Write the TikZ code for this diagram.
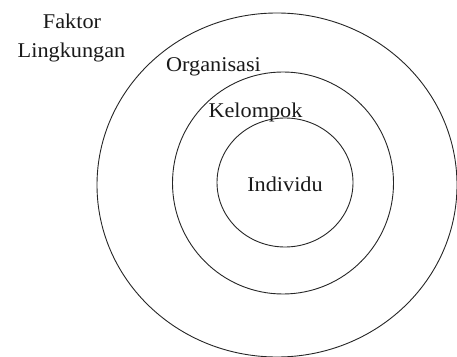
\documentclass[tikz,border=0pt]{standalone}
\usepackage{fontspec}
\setmainfont{Liberation Serif}
\begin{document}
\begin{tikzpicture}[x=1pt,y=1pt,
  ring/.style={draw=black!85, line width=0.9pt},
  lbl/.style={anchor=base, inner sep=0pt, font=\fontsize{21}{25}\selectfont, text=black!90, xscale=1.06}]
\useasboundingbox (0,0) rectangle (457,356);
\coordinate (co) at (277,171);
\coordinate (cm) at (283,173);
\coordinate (ci) at (285,173.5);
\draw[ring] (co) ellipse [x radius=180, y radius=172];
\draw[ring] (cm) ellipse [x radius=110.5, y radius=111];
\draw[ring] (ci) ellipse [x radius=68, y radius=64.5];
\node[lbl] (faktor) at (72,327) {Faktor};
\node[lbl] (lingk) at (71.5,298) {Lingkungan};
\node[lbl] (org) at (213.5,284) {Organisasi};
\node[lbl] (kel) at (255.5,238) {Kelompok};
\node[lbl] (ind) at (285,164) {Individu};
\end{tikzpicture}
\end{document}
